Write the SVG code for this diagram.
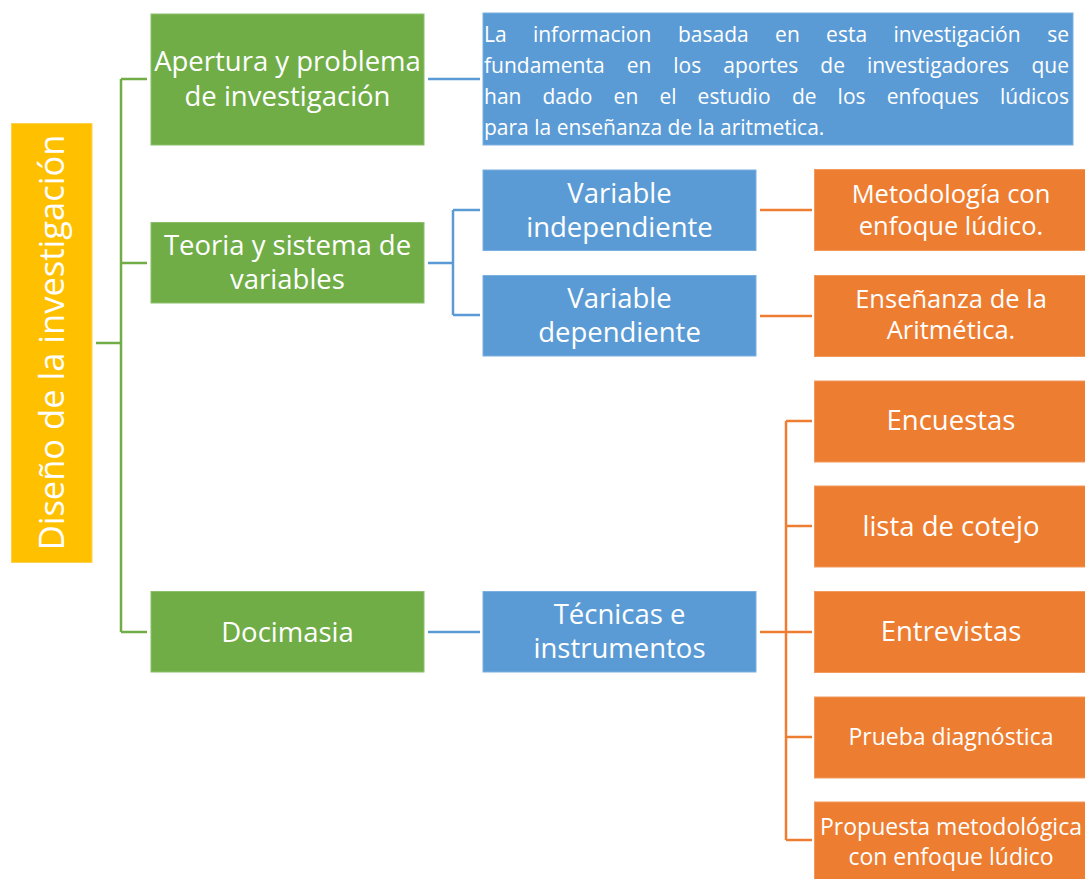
<svg xmlns="http://www.w3.org/2000/svg" width="1085" height="879" viewBox="0 0 1085 879">
  <style>
    text { font-family: "Open Sans", "Noto Sans", "Liberation Sans", sans-serif; fill: #ffffff; }
    .c { text-anchor: middle; }
    .e { text-anchor: end; }
    .big { font-size: 27.5px; }
    .mid { font-size: 25.5px; }
    .small { font-size: 23px; }
    .para { font-size: 21px; }
    .title { font-size: 34.5px; }
    .yellow { fill: #FFC000; stroke: #FFD24D; stroke-width: 1; }
    .green { fill: #70AD47; stroke: #8CC06A; stroke-width: 1; }
    .blue { fill: #5B9BD5; stroke: #7BB0E0; stroke-width: 1; }
    .orange { fill: #ED7D31; stroke: #F29A5E; stroke-width: 1; }
    .lg { stroke: #70AD47; stroke-width: 2.5; fill: none; }
    .lb { stroke: #5B9BD5; stroke-width: 2.5; fill: none; }
    .lo { stroke: #ED7D31; stroke-width: 2.5; fill: none; }
  </style>

  <rect width="1085" height="879" fill="#ffffff"/>

  <!-- connectors -->
  <g id="connectors">
    <!-- root to first level -->
    <path class="lg" d="M96 343 H121 M121 79 V632 M121 79 H147 M121 263 H147 M121 632 H147"/>
    <!-- first level to second level -->
    <path class="lb" d="M428 79 H480"/>
    <path class="lb" d="M428 263 H453 M453 210 V315 M453 210 H480 M453 315 H480"/>
    <path class="lb" d="M428 632 H480"/>
    <!-- second level to third level -->
    <path class="lo" d="M760 210 H812 M760 316 H812"/>
    <path class="lo" d="M760 632 H786 M786 421 V840 M786 421 H812 M786 526 H812 M786 632 H812 M786 737 H812 M786 840 H812"/>
  </g>

  <!-- root -->
  <g id="root">
    <rect class="yellow" x="11.5" y="123.5" width="80.5" height="439"/>
    <text class="title c" transform="translate(64 342.5) rotate(-90)">Diseño de la investigación</text>
  </g>

  <!-- first level -->
  <g id="apertura">
    <rect class="green" x="151" y="14" width="273" height="131"/>
    <text class="big c" x="287.5" y="71">Apertura y problema</text>
    <text class="big c" x="287.5" y="106">de investigación</text>
  </g>
  <g id="teoria">
    <rect class="green" x="151" y="222.5" width="273" height="80.5"/>
    <text class="big c" x="287.5" y="255">Teoria y sistema de</text>
    <text class="big c" x="287.5" y="289">variables</text>
  </g>
  <g id="docimasia">
    <rect class="green" x="151" y="591.5" width="273" height="80.5"/>
    <text class="big c" x="287.5" y="642">Docimasia</text>
  </g>

  <!-- second level -->
  <g id="informacion">
    <rect class="blue" x="483" y="13" width="590" height="132"/>
    <text class="para" y="42"><tspan x="484">La</tspan><tspan x="532.9">informacion</tspan><tspan x="678">basada</tspan><tspan x="775.1">en</tspan><tspan x="826.1">esta</tspan><tspan x="893.4">investigación</tspan></text>
    <text class="para e" x="1069" y="42">se</text>
    <text class="para" y="73"><tspan x="484">fundamenta</tspan><tspan x="626.7">en</tspan><tspan x="673.3">los</tspan><tspan x="723.3">aportes</tspan><tspan x="820.3">de</tspan><tspan x="866.9">investigadores</tspan></text>
    <text class="para e" x="1069" y="73">que</text>
    <text class="para" y="104"><tspan x="484">han</tspan><tspan x="542.5">dado</tspan><tspan x="613.6">en</tspan><tspan x="659.4">el</tspan><tspan x="697.6">estudio</tspan><tspan x="791.9">de</tspan><tspan x="837.6">los</tspan><tspan x="886.8">enfoques</tspan></text>
    <text class="para e" x="1069" y="104">lúdicos</text>
    <text class="para" x="484" y="135">para la enseñanza de la aritmetica.</text>
  </g>
  <g id="independiente">
    <rect class="blue" x="483" y="170" width="273" height="80.5"/>
    <text class="big c" x="619.5" y="202.5">Variable</text>
    <text class="big c" x="619.5" y="236.5">independiente</text>
  </g>
  <g id="dependiente">
    <rect class="blue" x="483" y="275.5" width="273" height="80.5"/>
    <text class="big c" x="619.5" y="307.5">Variable</text>
    <text class="big c" x="619.5" y="341.5">dependiente</text>
  </g>
  <g id="tecnicas">
    <rect class="blue" x="483" y="591.5" width="273" height="80.5"/>
    <text class="big c" x="619.5" y="624">Técnicas e</text>
    <text class="big c" x="619.5" y="658">instrumentos</text>
  </g>

  <!-- third level -->
  <g id="metodologia">
    <rect class="orange" x="814.5" y="169.5" width="280" height="81"/>
    <text class="mid c" x="951" y="203">Metodología con</text>
    <text class="mid c" x="951" y="235">enfoque lúdico.</text>
  </g>
  <g id="ensenanza">
    <rect class="orange" x="814.5" y="275.5" width="280" height="81"/>
    <text class="mid c" x="951" y="308">Enseñanza de la</text>
    <text class="mid c" x="951" y="339">Aritmética.</text>
  </g>
  <g id="encuestas">
    <rect class="orange" x="814.5" y="381" width="280" height="81"/>
    <text class="big c" x="951" y="430">Encuestas</text>
  </g>
  <g id="cotejo">
    <rect class="orange" x="814.5" y="486" width="280" height="81"/>
    <text class="big c" x="951" y="536">lista de cotejo</text>
  </g>
  <g id="entrevistas">
    <rect class="orange" x="814.5" y="591.5" width="280" height="81"/>
    <text class="big c" x="951" y="641">Entrevistas</text>
  </g>
  <g id="prueba">
    <rect class="orange" x="814.5" y="697" width="280" height="81"/>
    <text class="small c" x="951" y="745">Prueba diagnóstica</text>
  </g>
  <g id="propuesta">
    <rect class="orange" x="814.5" y="802" width="280" height="90"/>
    <text class="small c" x="951" y="835">Propuesta metodológica</text>
    <text class="small c" x="951" y="865">con enfoque lúdico</text>
  </g>
</svg>
